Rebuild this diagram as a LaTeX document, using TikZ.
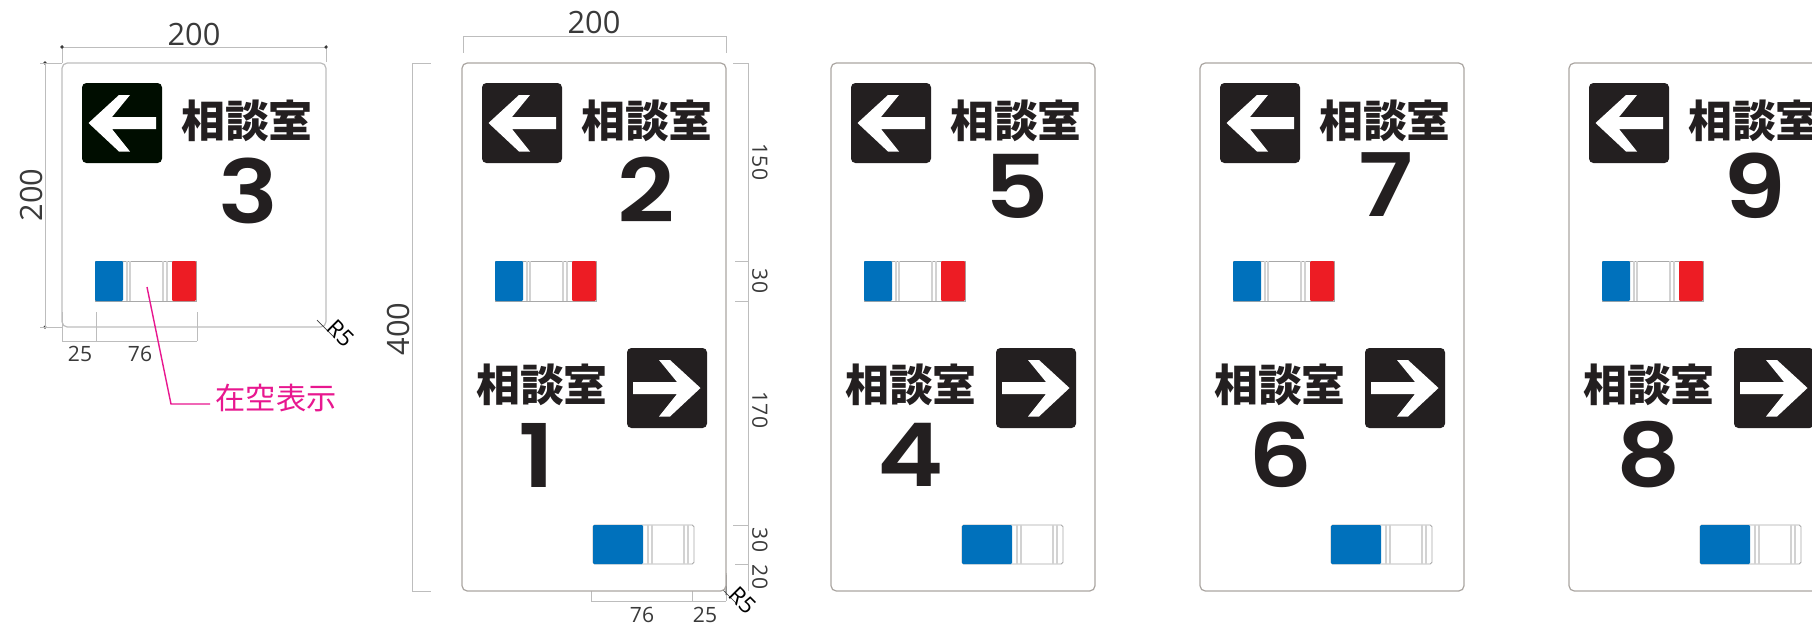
\documentclass[tikz,border=0pt]{standalone}
\usepackage{fontspec}
\setmainfont{Open Sans}
\newfontfamily\cjkfont{Noto Sans CJK JP}
\newfontfamily\numfont{Poppins}[UprightFont=* SemiBold,FakeStretch=1.14]
\usepackage{tikz}
\definecolor{panelgray}{HTML}{ABA6A2}
\definecolor{dimgray}{HTML}{BDBDBD}
\definecolor{barline}{HTML}{D2D2D2}
\definecolor{baredge}{HTML}{A8A8A8}
\definecolor{labelgray}{HTML}{3A3A3A}
\definecolor{boxblack}{HTML}{231F20}
\definecolor{barblue}{HTML}{0071BC}
\definecolor{barred}{HTML}{ED1C24}
\definecolor{notepink}{HTML}{E8178F}
\tikzset{
	panel/.style={draw=panelgray,line width=0.7pt,fill=white,rounded corners=3pt},
	dimline/.style={draw=dimgray,line width=0.5pt},
	dimtext/.style={inner sep=0pt,text=labelgray,font=\fontsize{12}{12}\selectfont},
	widetext/.style={inner sep=0pt,text=labelgray,font=\fontsize{17.5}{17.5}\selectfont},
	cornertext/.style={inner sep=0pt,text=black,font=\fontsize{13}{13}\selectfont},
	roomtext/.style={inner sep=0pt,text=boxblack,font=\cjkfont\bfseries\fontsize{25}{25}\selectfont},
	numtext/.style={inner sep=0pt,text=boxblack,font=\numfont\fontsize{50}{50}\selectfont},
	notetext/.style={inner sep=0pt,text=notepink,font=\cjkfont\fontsize{17.2}{17.2}\selectfont}
}
\newcommand{\leftbox}[1]{
	\fill[#1,rounded corners=2.5pt] (20,20) rectangle (100,100);
	\fill[white] (26.5,60) -- (57,32) -- (68,32) -- (50,54) -- (94,54) -- (94,66) -- (50,66) -- (68,88.5) -- (57,88.5) -- cycle;
}
\newcommand{\rightbox}{
	\fill[boxblack,rounded corners=2.5pt] (165,285) rectangle (245,365);
	\fill[white] (238.5,325) -- (208,297) -- (197,297) -- (215,319) -- (171,319) -- (171,331) -- (215,331) -- (197,353.5) -- (208,353.5) -- cycle;
}
\newcommand{\stockbar}{
	\draw[baredge,line width=0.5pt,fill=white] (33,198) rectangle (134,238);
	\draw[barline,line width=0.7pt] (65,198) -- (65,238) (68,198) -- (68,238) (101,198) -- (101,238) (105,198) -- (105,238);
	\fill[barblue,rounded corners=0.7pt] (33,198) rectangle (61,238);
	\fill[barred,rounded corners=0.7pt] (110,198) rectangle (134,238);
}
\newcommand{\lowerbar}{
	\draw[baredge,line width=0.5pt,fill=white,rounded corners=1pt] (131,462) rectangle (232,501);
	\draw[barline,line width=0.7pt] (186,462) -- (186,501) (190,462) -- (190,501) (222,462) -- (222,501) (226,462) -- (226,501);
	\fill[barblue,rounded corners=0.7pt] (131,462) rectangle (181,501);
}
\begin{document}
\begin{tikzpicture}[x=0.02cm,y=-0.02cm]
	\useasboundingbox (0,0) rectangle (1812,626);
	\clip (0,0) rectangle (1812,626);
	\fill[white] (0,0) rectangle (1812,626);

	\begin{scope}[shift={(62,63)}]
		\draw[panel,draw=dimgray] (0,0) rectangle (264,264);
		\leftbox{black!95!green}
		\stockbar
	\end{scope}
	\node[roomtext] (room3) at (247,121) {相談室};
	\node[numtext] (num3) at (248,191) {3};
	\draw[dimline] (62,47) -- (326,47) (62,45) -- (62,63) (326,45) -- (326,62);
	\fill[labelgray] (62,47) circle (1pt) (326,47) circle (1pt) (45,63) circle (1pt) (45,327) circle (1pt);
	\draw[dimline] (45,63) -- (45,327) (40,63) -- (62,63) (40,327) -- (62,327);
	\draw[dimline] (62,341) -- (197,341) (62,312) -- (62,341) (96,312) -- (96,341) (197,312) -- (197,341);
	\node[widetext] (top3) at (194,34) {200};
	\node[widetext,rotate=90] (side3) at (32,195) {200};
	\node[dimtext] (gap3) at (80,354) {25};
	\node[dimtext] (width3) at (140,354) {76};
	\draw[labelgray,line width=0.4pt] (317,320) -- (334,337);
	\node[cornertext,rotate=-45] (corner3) at (341,333) {R5};
	\node[notetext] (note3) at (276,398) {在空表示};
	\coordinate (stock3) at (147,287);
	\coordinate (noteend) at (210,404);
	\draw[notepink,line width=0.8pt] (stock3) -- (171,404) -- (noteend);

	\draw[dimline] (463,36) -- (726,36) (463,36) -- (463,53) (726,36) -- (726,53);
	\draw[dimline] (412,63) -- (412,591) (412,63) -- (431,63) (412,591) -- (431,591);
	\draw[dimline] (748,63) -- (748,591) (733,63) -- (748,63) (735,261) -- (748,261) (735,301) -- (748,301) (733,525) -- (748,525) (735,564) -- (748,564);
	\draw[dimline] (462,319) -- (596,319) (496,301) -- (496,319) (596,301) -- (596,319);
	\draw[dimline] (591,601) -- (726,601) (591,575) -- (591,601) (692,575) -- (692,601) (726,575) -- (726,601);
	\node[widetext] (top2) at (594,22) {200};
	\node[widetext,rotate=90] (side2) at (398,329) {400};
	\node[dimtext,rotate=-90] (right150) at (760,162) {150};
	\node[dimtext,rotate=-90] (right30a) at (760,281) {30};
	\node[dimtext,rotate=-90] (right170) at (760,410) {170};
	\node[dimtext,rotate=-90] (right30b) at (760,540) {30};
	\node[dimtext,rotate=-90] (right20) at (760,577) {20};
	\node[dimtext] (gap2) at (479,323) {25};
	\node[dimtext] (width2) at (539,323) {76};
	\node[dimtext] (width1) at (642,615) {76};
	\node[dimtext] (gap1) at (705,615) {25};
	\draw[labelgray,line width=0.4pt] (726,573) -- (726,595) (720,587) -- (737,604);
	\node[cornertext,rotate=-45] (corner1) at (743,600) {R5};

	\foreach \px/\up/\ux/\uy/\down/\dx in {462/2/184/127/1/75,831/5/186/123.5/4/80,1200/7/186/122/6/81,1569/9/186/122.5/8/80} {
		\begin{scope}[shift={(\px,63)}]
			\draw[panel] (0,0) rectangle (264,528);
			\leftbox{boxblack}
			\rightbox
			\stockbar
			\lowerbar
			\node[roomtext] (roomup\up) at (185,58) {相談室};
			\node[numtext] (num\up) at (\ux,\uy) {\up};
			\node[roomtext] (roomdown\down) at (80,322) {相談室};
			\node[numtext] (num\down) at (\dx,392) {\down};
		\end{scope}
	}
\end{tikzpicture}
\end{document}
